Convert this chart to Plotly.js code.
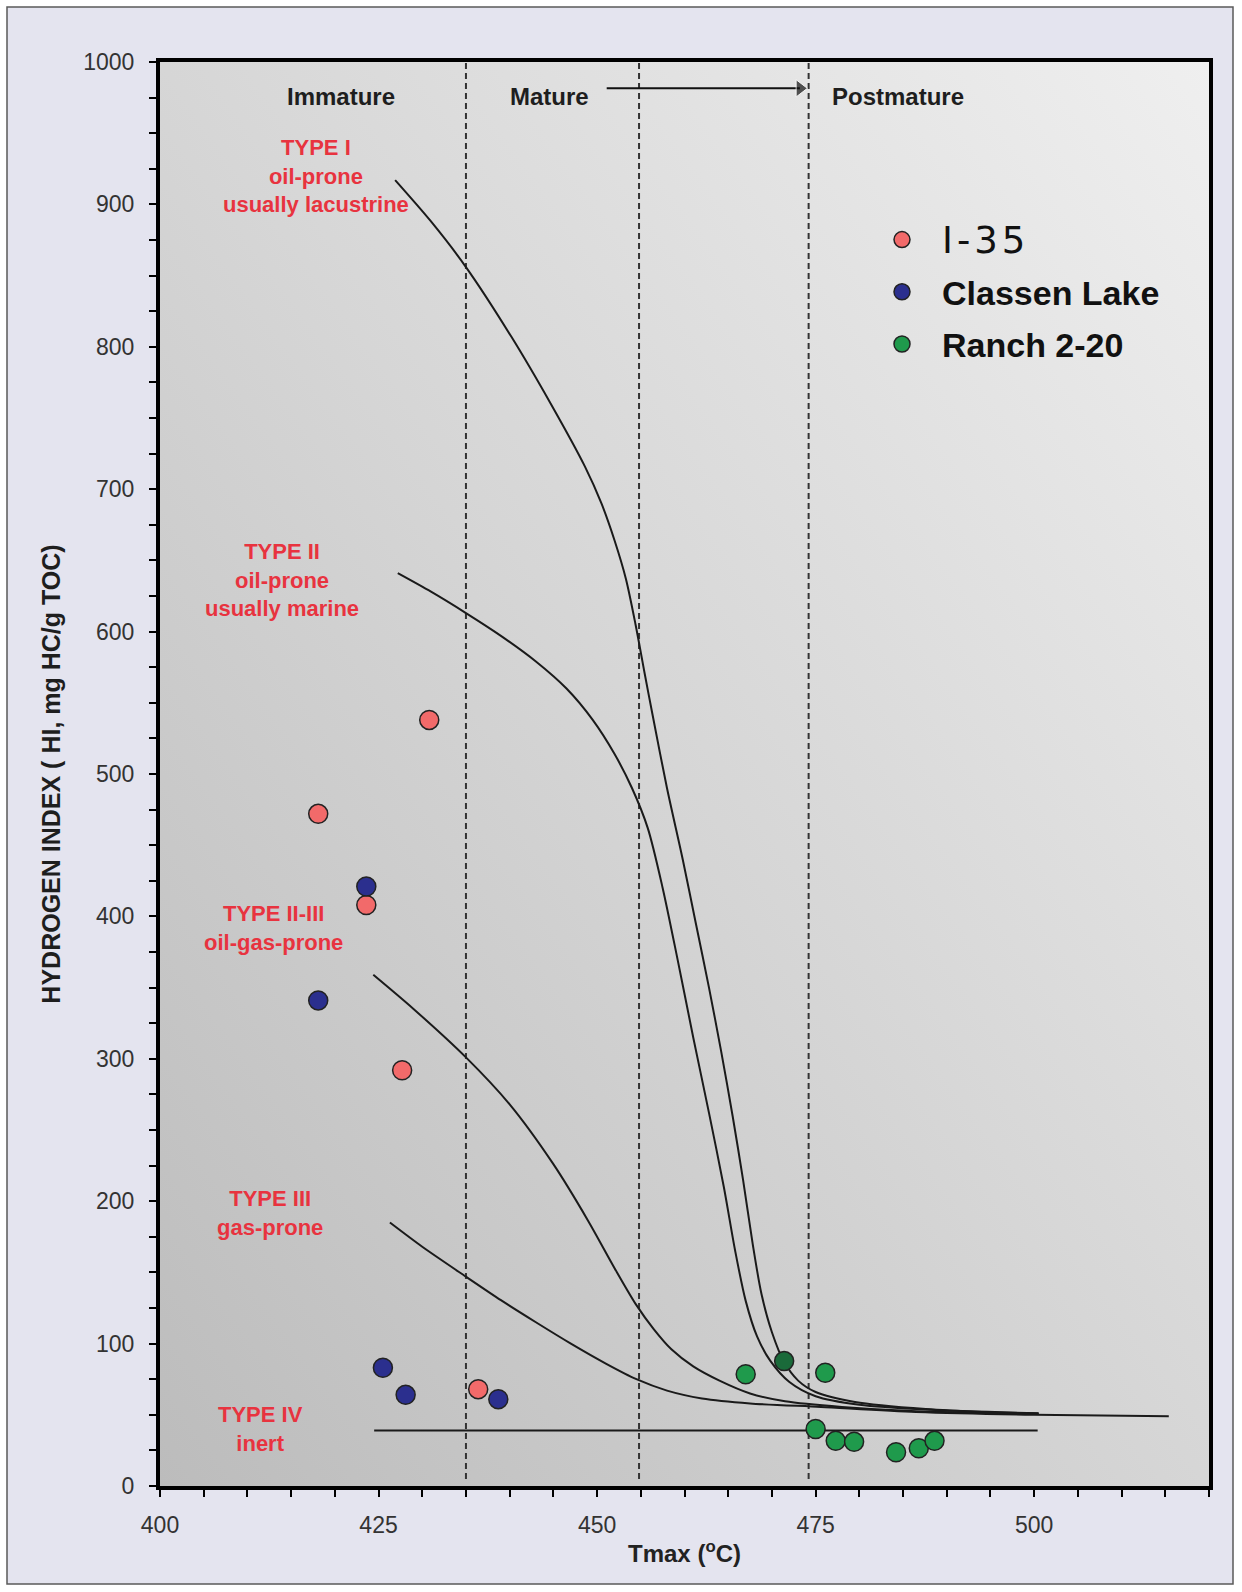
<!DOCTYPE html>
<html>
<head>
<meta charset="utf-8">
<script src="https://cdn.plot.ly/plotly-3.0.1.min.js"></script>
<style>
html,body{margin:0;padding:0;background:#ffffff;}
#chart{width:1242px;height:1592px;}
</style>
</head>
<body>
<div id="chart"></div>
<script>
// ---------- DATA ----------
const seriesNames = ["I-35", "Classen Lake", "Ranch 2-20"];

const xI35 = [430.8, 418.1, 423.6, 427.7, 436.4];
const yI35 = [538, 472, 408, 292, 68];

const xClassen = [423.6, 418.1, 425.5, 428.1, 438.7];
const yClassen = [421, 341, 83, 64, 61];

const xRanch = [467.0, 471.4, 476.1, 475.0, 477.3, 479.4, 484.2, 486.8, 488.6];
const yRanch = [78.5, 87.7, 79.5, 40, 31.7, 31, 23.7, 26.5, 31.7];
const ranchColors = ["#1f9a4c", "#1a6a3a", "#1f9a4c", "#1f9a4c", "#1f9a4c", "#1f9a4c", "#1f9a4c", "#1f9a4c", "#1f9a4c"];

// kerogen type boundary curves (Tmax, HI)
const xTypeI = [426.9, 431, 435.0, 440.2, 444.7, 448.6, 450.5, 452.0, 453.3, 454.4, 455.4, 456.3, 458.0, 459.8, 461.3, 462.8, 464.2, 465.5, 466.7, 467.8, 468.8, 470.0, 471.4, 473.0, 475.0, 479.5, 487.6, 494, 500.5];
const yTypeI = [917, 888, 856, 807, 760, 716, 690, 664, 637, 605, 572, 543, 490, 440, 395, 350, 305, 260, 215, 170, 135, 108, 87, 74, 66, 59, 54, 52, 51];

const xTypeII = [427.2, 431, 435, 439, 443, 446.5, 449.5, 452, 454, 455.8, 457.5, 459.2, 461, 462.8, 464.5, 465.8, 467, 468.3, 469.8, 472, 475, 480, 488, 500.5];
const yTypeII = [641, 628, 613, 597, 579, 560, 538, 514, 490, 462, 420, 370, 315, 262, 210, 165, 130, 105, 88, 73, 63, 57, 53.5, 51];

const xTypeII_III = [424.4, 429, 435, 440, 445, 449, 452, 454.5, 456.5, 458.5, 461, 464, 467.5, 471.5, 478, 486.5, 500.5];
const yTypeII_III = [359, 335, 301, 268, 226, 186, 153, 127, 110, 96, 84, 74, 65, 59.5, 55.5, 52.5, 51];

const xTypeIII = [426.3, 430, 435, 439, 443, 447, 451, 454.5, 458, 462, 467.5, 475.6, 486.5, 500, 515.4];
const yTypeIII = [185, 168, 147, 130.5, 115, 100, 86, 75, 67, 61.5, 58, 55.5, 52, 50, 49];

const xTypeIV = [424.5, 500.4];
const yTypeIV = [39, 39];

// maturity zone boundaries (Tmax) and the maturation arrow
const maturityBounds = [435, 454.8, 474.2];
const arrowX = [451.1, 473.2];
const arrowY = [981.5, 981.5];
const zoneLabels = ["Immature", "Mature", "Postmature"];
const zoneLabelX = [420.7, 444.5, 484.4];

const typeLabels = [
  "TYPE I<br>oil-prone<br>usually lacustrine",
  "TYPE II<br>oil-prone<br>usually marine",
  "TYPE II-III<br>oil-gas-prone",
  "TYPE III<br>gas-prone",
  "TYPE IV<br>inert"
];
const typeLabelX = [417.9, 414.0, 413.0, 412.6, 411.5];
const typeLabelY = [920, 636, 392, 192, 40];

// ---------- LAYOUT HELPERS ----------
const W = 1242, H = 1592;
const M = {l: 160, r: 33, t: 62, b: 106};
const PW = W - M.l - M.r, PH = H - M.t - M.b;
const px2x = p => (p - M.l) / PW;
const px2y = p => (H - M.b - p) / PH;

const FONT = "Liberation Sans, Arial, Helvetica, sans-serif";
const curveLine = {color: "#1a1a1a", width: 2, shape: "spline", smoothing: 0.8};
const markerLine = {color: "#222222", width: 1.5};

function curve(x, y) {
  return {x: x, y: y, type: "scatter", mode: "lines", line: curveLine,
          showlegend: false, hoverinfo: "skip"};
}

const traces = [
  curve(xTypeI, yTypeI),
  curve(xTypeII, yTypeII),
  curve(xTypeII_III, yTypeII_III),
  curve(xTypeIII, yTypeIII),
  {x: xTypeIV, y: yTypeIV, type: "scatter", mode: "lines",
   line: {color: "#1a1a1a", width: 2}, showlegend: false, hoverinfo: "skip"},
  {x: arrowX, y: arrowY, type: "scatter", mode: "lines+markers",
   line: {color: "#111111", width: 2},
   marker: {symbol: ["circle", "triangle-right"], size: [0, 15], color: "#111111"},
   showlegend: false, hoverinfo: "skip"},
  {x: xI35, y: yI35, type: "scatter", mode: "markers",
   name: '<span style="font-family:DejaVu Sans;font-weight:normal;font-size:37px;letter-spacing:4px">' + seriesNames[0] + '</span>',
   legendgroup: "a",
   marker: {size: 19, color: "#f26a6a", line: markerLine}},
  {x: xClassen, y: yClassen, type: "scatter", mode: "markers", name: seriesNames[1],
   legendgroup: "b",
   marker: {size: 19, color: "#2b2f8e", line: markerLine}},
  {x: xRanch, y: yRanch, type: "scatter", mode: "markers", name: seriesNames[2],
   legendgroup: "c",
   marker: {size: 19, color: ranchColors, line: markerLine}}
];

// shapes
const shapes = [];
maturityBounds.forEach(b => {
  shapes.push({type: "line", xref: "x", yref: "y", x0: b, x1: b, y0: 5, y1: 1000,
               layer: "below", line: {color: "#333333", width: 2, dash: "6px,4px"}});
});
// white outer margin and gray frame
const ox0 = px2x(0), ox1 = px2x(W), oy0 = px2y(H), oy1 = px2y(0);
const fx0 = px2x(7), fx1 = px2x(1233), fy0 = px2y(1584), fy1 = px2y(7);
shapes.push({type: "path", xref: "paper", yref: "paper", layer: "above",
  path: `M${ox0},${oy0}L${ox1},${oy0}L${ox1},${oy1}L${ox0},${oy1}Z M${fx0},${fy0}L${fx1},${fy0}L${fx1},${fy1}L${fx0},${fy1}Z`,
  fillrule: "evenodd", fillcolor: "#ffffff", line: {width: 0}});
shapes.push({type: "rect", xref: "paper", yref: "paper", layer: "above",
  x0: fx0, x1: fx1, y0: fy0, y1: fy1, line: {color: "#5a5a5a", width: 1.5}});

// annotations
const annotations = [];
zoneLabels.forEach((t, i) => {
  annotations.push({x: zoneLabelX[i], y: 976, xref: "x", yref: "y", text: t, showarrow: false,
    font: {family: FONT, size: 24, color: "#1e1e1e", weight: "bold"}});
});
typeLabels.forEach((t, i) => {
  annotations.push({x: typeLabelX[i], y: typeLabelY[i], xref: "x", yref: "y", text: t,
    showarrow: false, align: "center",
    font: {family: FONT, size: 22, color: "#e8333f", weight: "bold"}});
});

const gradSvg = "<svg xmlns='http://www.w3.org/2000/svg' width='100' height='100' viewBox='0 0 100 100' preserveAspectRatio='none'>" +
  "<defs><linearGradient id='g' x1='0' y1='1' x2='1' y2='0'>" +
  "<stop offset='0' stop-color='#bcbcbc'/><stop offset='0.5' stop-color='#d6d6d6'/><stop offset='1' stop-color='#efefef'/>" +
  "</linearGradient></defs><rect width='100' height='100' fill='url(#g)'/></svg>";
const gradUri = "data:image/svg+xml;charset=utf-8," + encodeURIComponent(gradSvg);

const axisCommon = {
  showgrid: false, zeroline: false, showline: true, linecolor: "#000000", linewidth: 4,
  mirror: true, ticks: "outside", ticklen: 7, tickwidth: 2, tickcolor: "#000000",
  tickfont: {family: FONT, size: 23, color: "#333333"}
};

const layout = {
  width: W, height: H, margin: M,
  paper_bgcolor: "#e4e4ef", plot_bgcolor: "rgba(0,0,0,0)",
  font: {family: FONT},
  xaxis: Object.assign({}, axisCommon, {
    range: [400, 520], tickvals: [400, 425, 450, 475, 500],
    minor: {tickmode: "linear", tick0: 400, dtick: 5, ticks: "outside", ticklen: 7, tickwidth: 2, tickcolor: "#000000"},
    ticklabelstandoff: 8,
    title: {text: "Tmax (<sup>o</sup>C)", standoff: 10,
            font: {family: FONT, size: 24, color: "#222222", weight: "bold"}}
  }),
  yaxis: Object.assign({}, axisCommon, {
    range: [0, 1000], tickmode: "linear", tick0: 0, dtick: 100,
    minor: {tickmode: "linear", tick0: 0, dtick: 25, ticks: "outside", ticklen: 7, tickwidth: 2, tickcolor: "#000000"},
    ticklabelstandoff: 10,
    title: {text: "HYDROGEN INDEX ( HI, mg HC/g TOC)", standoff: 16,
            font: {family: FONT, size: 25, color: "#1e1e1e", weight: "bold"}}
  }),
  legend: {x: px2x(862), y: px2y(211), xanchor: "left", yanchor: "top",
           bgcolor: "rgba(0,0,0,0)", itemwidth: 70, tracegroupgap: 5,
           font: {family: FONT, size: 34, color: "#111111", weight: "bold"}},
  images: [{source: gradUri, xref: "paper", yref: "paper", x: 0, y: 1, sizex: 1, sizey: 1,
            xanchor: "left", yanchor: "top", sizing: "stretch", layer: "below"}],
  shapes: shapes,
  annotations: annotations,
  showlegend: true
};

Plotly.newPlot("chart", traces, layout, {displayModeBar: false, staticPlot: true});
</script>
</body>
</html>
